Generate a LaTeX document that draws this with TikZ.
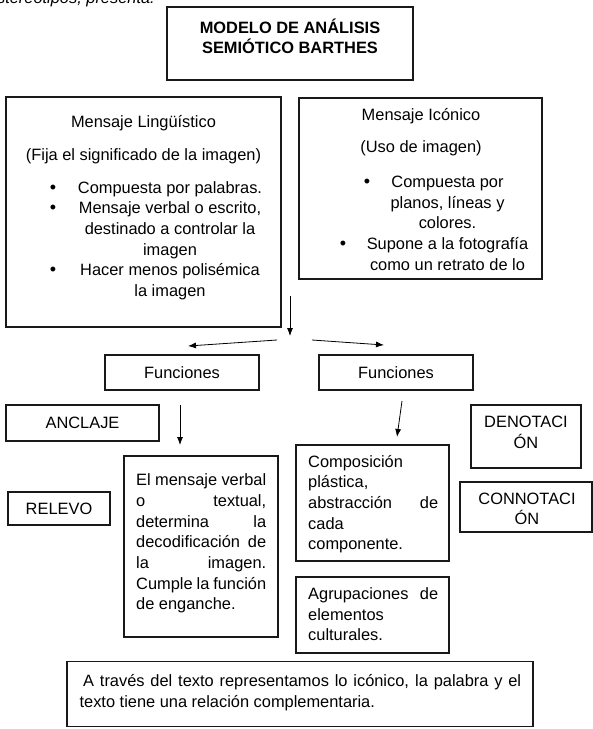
\documentclass[tikz,border=0pt]{standalone}
\usepackage{fontspec}
\setmainfont{Liberation Sans}
\usetikzlibrary{arrows.meta}
\newcommand{\dfont}{\fontsize{16.4}{20.7}\selectfont}
\newcommand{\JLine}[1]{\makebox[130pt][s]{#1}}
\newcommand{\LLine}[1]{\makebox[130pt][l]{#1}}
\newcommand{\bul}{{\fontsize{18}{18}\selectfont •}}
\begin{document}
\begin{tikzpicture}[x=1pt,y=-1pt,
  every node/.style={font=\dfont},
  box/.style={draw=black!90, line width=1.2pt, inner sep=0pt, rectangle},
  txt/.style={inner sep=0pt, anchor=base},
  txtl/.style={inner sep=0pt, anchor=base west},
  conn/.style={draw=black, line width=0.8pt, -{Latex[length=8pt,width=6pt]}}]
\useasboundingbox (0,0) rectangle (593,729);
\fill[white] (0,0) rectangle (593,729);

% cut-off line of text at the top
\begin{scope}
\clip (0,0) rectangle (593,729);
\node[inner sep=0pt, anchor=base east, font=\dfont\itshape] (toptext) at (155,3.5) {estereotipos, presenta:};
\end{scope}

% title
\node[box, minimum width=246pt, minimum height=73pt] (title) at (290,43.5) {};
\node[txt, font=\dfont\bfseries] (titletext) at (290,33) {\begin{tabular}[t]{@{}c@{}}MODELO DE ANÁLISIS\\SEMIÓTICO BARTHES\end{tabular}};

% Mensaje Lingüístico
\node[box, minimum width=275pt, minimum height=230pt] (ling) at (143.5,212) {};
\node[txt] (lingt1) at (143.5,127) {Mensaje Lingüístico};
\node[txt] (lingt2) at (143.5,160) {(Fija el significado de la imagen)};
\node[txt] (lingt3) at (170,193) {\begin{tabular}[t]{@{}c@{}}Compuesta por palabras.\\Mensaje verbal o escrito,\\destinado a controlar la\\imagen\\Hacer menos polisémica\\la imagen\end{tabular}};
\node[txt] (lb1) at (53,193) {\bul};
\node[txt] (lb2) at (53,213.7) {\bul};
\node[txt] (lb3) at (53,275.8) {\bul};

% Mensaje Icónico
\node[box, minimum width=243pt, minimum height=181pt] (icon) at (420.5,188.5) {};
\node[txt] (icont1) at (421,120.5) {Mensaje Icónico};
\node[txt] (icont2) at (421,152.5) {(Uso de imagen)};
\node[txt] (icont3) at (447.5,187.5) {\begin{tabular}[t]{@{}c@{}}Compuesta por\\planos, líneas y\\colores.\\Supone a la fotografía\\como un retrato de lo\end{tabular}};
\node[txt] (ib1) at (367,187.5) {\bul};
\node[txt] (ib2) at (343,249.6) {\bul};

% Funciones
\node[box, minimum width=154pt, minimum height=35pt] (funl) at (182,372.5) {Funciones};
\node[box, minimum width=154pt, minimum height=35pt] (funr) at (396,372.5) {Funciones};

% side boxes
\node[box, minimum width=153pt, minimum height=36pt] (ancl) at (82.5,423) {ANCLAJE};
\node[box, minimum width=102pt, minimum height=33pt] (relevo) at (59,508.5) {RELEVO};
\node[box, minimum width=110pt, minimum height=63pt] (deno) at (526,436.5) {};
\node[txt] (denot) at (526,427.3) {\begin{tabular}[t]{@{}c@{}}DENOTACI\\ÓN\end{tabular}};
\node[box, minimum width=132pt, minimum height=50pt] (conno) at (526,507) {};
\node[txt] (connot) at (527,504) {\begin{tabular}[t]{@{}c@{}}CONNOTACI\\ÓN\end{tabular}};

% El mensaje verbal
\node[box, minimum width=154pt, minimum height=181pt] (verbal) at (201,546.5) {};
\node[txtl] (verbalt) at (136,485.7) {\begin{tabular}[t]{@{}l@{}}\JLine{El mensaje verbal}\\\JLine{o textual,}\\\JLine{determina la}\\\JLine{decodificación de}\\\JLine{la imagen.}\\\JLine{Cumple la función}\\\LLine{de enganche.}\end{tabular}};

% Composición
\node[box, minimum width=153pt, minimum height=116pt] (compo) at (372.5,503) {};
\node[txtl] (compot) at (308,467) {\begin{tabular}[t]{@{}l@{}}\LLine{Composición}\\\LLine{plástica,}\\\JLine{abstracción de}\\\LLine{cada}\\\LLine{componente.}\end{tabular}};

% Agrupaciones
\node[box, minimum width=153pt, minimum height=76pt] (agru) at (372.5,615) {};
\node[txtl] (agrut) at (308,599.3) {\begin{tabular}[t]{@{}l@{}}\JLine{Agrupaciones de}\\\LLine{elementos}\\\LLine{culturales.}\end{tabular}};

% bottom box
\node[box, minimum width=466pt, minimum height=65pt] (bottom) at (300,694) {};
\node[txtl] (bott1) at (83,686.5) {\makebox[438pt][s]{A través del texto representamos lo icónico, la palabra y el}};
\node[txtl] (bott2) at (79.4,707.2) {texto tiene una relación complementaria.};

% connectors
\coordinate (d1s) at (290,296);
\coordinate (d1e) at (290,336);
\coordinate (l1s) at (277,340);
\coordinate (l1e) at (188,346);
\coordinate (r1s) at (312,340);
\coordinate (r1e) at (384,345);
\coordinate (fl1s) at (180,405);
\coordinate (fl1e) at (180,445);
\coordinate (fr1s) at (402,401);
\coordinate (fr1e) at (397,437);
\draw[conn] (d1s) -- (d1e);
\draw[conn] (l1s) -- (l1e);
\draw[conn] (r1s) -- (r1e);
\draw[conn] (fl1s) -- (fl1e);
\draw[conn] (fr1s) -- (fr1e);
\end{tikzpicture}
\end{document}
